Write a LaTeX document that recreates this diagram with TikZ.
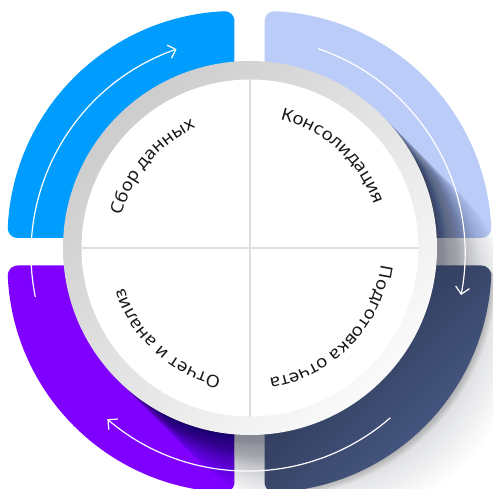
\documentclass[tikz,border=0pt]{standalone}
\usepackage{fontspec}
\setmainfont[FakeStretch=1.1]{Noto Sans}
\usetikzlibrary{decorations.text,arrows.meta}
\definecolor{blueQ}{RGB}{0,157,255}
\definecolor{periQ}{RGB}{186,204,247}
\definecolor{purpQ}{RGB}{128,0,255}
\definecolor{navyA}{RGB}{38,48,76}
\definecolor{navyB}{RGB}{76,94,138}
\definecolor{shadowC}{RGB}{14,20,40}
\definecolor{ringA}{RGB}{205,205,205}
\definecolor{ringB}{RGB}{250,250,250}
\definecolor{divC}{RGB}{222,222,222}
\definecolor{txtC}{RGB}{25,25,25}
\newcommand\lblfont{\fontsize{17}{20}\selectfont}
\newcommand\quadshape[1]{\path[#1] (0,0) -- (-216.77,0)
  arc[start angle=270,end angle=177.36,radius=10]
  arc[start angle=177.36,end angle=92.64,radius=227]
  arc[start angle=92.64,end angle=0,radius=10] -- cycle;}
\tikzset{
  arrowline/.style={draw=white,line width=1.2pt,-{Straight Barb[length=7pt,width=14pt]}},
  divider/.style={draw=divC,line width=2.5pt},
  arctext/.style={decorate,decoration={text along path,text align=center,text color=txtC,text={|\lblfont|#1}}}
}
\begin{document}
\begin{tikzpicture}[x=1pt,y=1pt]
\useasboundingbox (0,0) rectangle (493,488);
\clip (0,0) rectangle (493,488);
\coordinate (C) at (250,240);
\coordinate (A) at (248,234);
% soft outer shadow of the bottom-right quadrant
\foreach \k in {1,...,8}{
  \begin{scope}[shift={(264.5+\k*0.7,222.5-\k*0.7)},scale=-1]\quadshape{fill=black,opacity=0.02}\end{scope}
}
% quadrants
\begin{scope}[shift={(234.5,250)}]\quadshape{fill=blueQ}\end{scope}
\begin{scope}[shift={(264.5,250)},xscale=-1]\quadshape{fill=periQ}\end{scope}
\begin{scope}[shift={(234.5,222.5)},yscale=-1]\quadshape{fill=purpQ}\end{scope}
% long shadow of the disc
\foreach \k in {0,...,160}{
  \pgfmathsetmacro\t{\k*1.5}
  \pgfmathsetmacro\op{0.028*exp(-\t/45)}
  \fill[shadowC,opacity=\op] ([shift={(\t*0.7071,-\t*0.7071)}]C) circle[radius=187];
}
% bottom-right quadrant above the shadow
\begin{scope}[shift={(264.5,222.5)},scale=-1]\quadshape{top color=navyA,bottom color=navyB,shading angle=45}\end{scope}
% cycle arrows
\draw[arrowline] (A) ++(191.4:217) arc[start angle=191.4,end angle=109.2,radius=217];
\draw[arrowline] (A) ++(71.1:217) arc[start angle=71.1,end angle=-10.9,radius=217];
\draw[arrowline] (A) ++(-49:217) arc[start angle=-49,end angle=-130.4,radius=217];
% disc
\shade[top color=ringA,bottom color=ringB,shading angle=45] (C) circle[radius=187];
\fill[white] (C) circle[radius=168.5];
\draw[divider] ([yshift=168.5pt]C) -- ([yshift=-168.5pt]C);
\draw[divider] ([xshift=-168.5pt]C) -- ([xshift=168.5pt]C);
% labels
\path[arctext={Сбор данных}] (C) ++(190:132) arc[start angle=190,end angle=90,radius=132];
\path[arctext={Консолидация}] (C) ++(98:132) arc[start angle=98,end angle=-2,radius=132];
\path[arctext={Подготовка отчета}] (C) ++(10:132) arc[start angle=10,end angle=-99,radius=132];
\path[arctext={Отчет и анализ}] (C) ++(-82:132) arc[start angle=-82,end angle=-183,radius=132];
\end{tikzpicture}
\end{document}
